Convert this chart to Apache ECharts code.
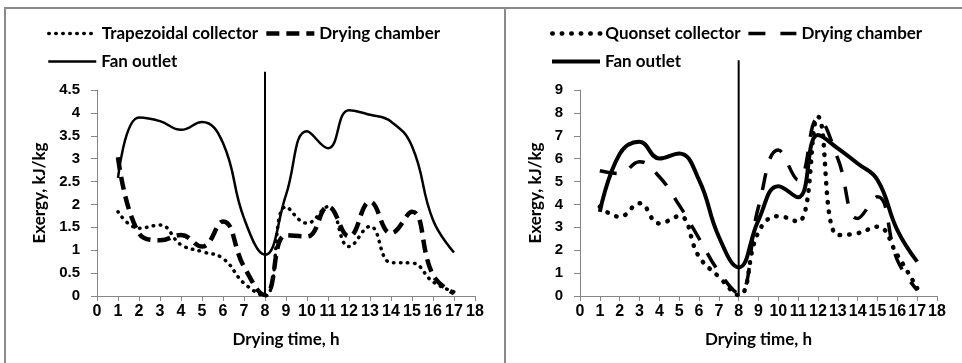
<!DOCTYPE html>
<html><head><meta charset="utf-8">
<script src="https://cdn.jsdelivr.net/npm/echarts@6/dist/echarts.min.js"></script>
<style>
html,body{margin:0;padding:0;background:#fff;width:962px;height:363px;overflow:hidden;}
#c1{position:absolute;left:0;top:0;width:505px;height:363px;}
#c2{position:absolute;left:505px;top:0;width:457px;height:363px;}
.b{position:absolute;background:#8a8a8a;z-index:5;}
</style></head><body>
<div id="c1"></div><div id="c2"></div>
<div class="b" style="left:4px;top:7px;width:958px;height:2px;"></div>
<div class="b" style="left:4px;top:7px;width:2px;height:356px;"></div>
<div class="b" style="left:504px;top:7px;width:2px;height:356px;"></div>
<script>
// ---- data ----
var hours = [1,2,3,4,5,6,7,8,9,10,11,12,13,14,15,16,17];
var xTicks = [0,18,1];
var leftNames = ['Trapezoidal collector','Drying chamber','Fan outlet'];
var leftTrap = [1.84,1.48,1.55,1.12,0.97,0.82,0.28,0.0,1.95,1.59,1.95,1.08,1.52,0.73,0.72,0.31,0.09];
var leftChamber = [3.03,1.37,1.22,1.33,1.08,1.63,0.64,0.02,1.33,1.30,1.95,1.30,2.06,1.37,1.84,0.46,0.06];
var leftFan = [2.58,3.90,3.82,3.63,3.80,3.34,1.70,0.90,2.21,3.60,3.23,4.06,3.96,3.81,3.27,1.66,0.95];
var leftY = [0,4.5,0.5];
var rightNames = ['Quonset collector','Drying chamber','Fan outlet'];
var rightQuonset = [3.90,3.46,4.05,3.17,3.49,1.72,0.84,0.04,2.80,3.49,3.24,7.83,2.66,2.74,3.03,1.79,0.34];
var rightChamber = [5.47,5.35,5.87,5.21,3.97,2.52,1.06,0.12,3.90,6.38,5.07,7.76,6.00,3.39,4.34,1.57,0.26];
var rightFan = [3.68,6.20,6.74,6.01,6.23,5.07,2.59,1.25,3.32,4.80,4.31,7.03,6.45,5.79,5.07,2.88,1.50];
var rightY = [0,9,1];
var dividerX = 8;
var leftDivider = [0,4.9];
var rightDivider = [0,10.3];
var leftNotes = [{t:'First day',x:3.95,y:4.33},{t:'Second day',x:12.8,y:4.38}];
var rightNotes = [{t:'First day',x:3.6,y:1.95},{t:'Second day',x:11.2,y:1.9}];
var yTitle = 'Exergy, kJ/kg';
var xTitle = 'Drying time, h';

function pairs(v){return hours.map(function(h,i){return [h,v[i]];});}
var lblFont = {fontFamily:'Liberation Sans',fontWeight:'bold',fontSize:16,color:'#000'};
var capFont = {fontFamily:'Lato',fontWeight:'bold',fontSize:17,color:'#000'};

function build(cfg){
  var styles = {};
  var series = cfg.lines.map(function(l){
    var ls = {color:'#000',width:l.w,type:l.type,cap:l.cap||'butt'};
    styles[l.name] = ls;
    return {name:l.name,type:'line',data:pairs(l.data),smooth:0.45,symbol:'none',
      itemStyle:{color:'rgba(0,0,0,0)',borderWidth:0},
      lineStyle:ls,z:l.z||2};
  });
  series.push({type:'line',data:[[dividerX,cfg.divider[0]],[dividerX,cfg.divider[1]]],symbol:'none',clip:false,
    lineStyle:{color:'#000',width:2},silent:true,z:1});
  series.push({type:'scatter',symbol:'none',silent:true,clip:false,
    data:cfg.notes.map(function(n){return {value:[n.x,n.y],label:{formatter:n.t}};}),
    label:{show:true,position:'inside',fontFamily:'Lato',fontSize:14,color:'#333'}});
  function items(names){return names.map(function(n){
    return {name:n,lineStyle:Object.assign({},styles[n]),itemStyle:{color:'rgba(0,0,0,0)',borderWidth:0}};});}
  var leg = {left:cfg.legLeft,itemWidth:48,itemHeight:14,itemGap:6,padding:0,
    itemStyle:{color:'rgba(0,0,0,0)',borderWidth:0},textStyle:capFont};
  return {
    animation:false,
    legend:[
      Object.assign({data:items(cfg.legRow1),top:25},leg),
      Object.assign({data:items(cfg.legRow2),top:53},leg)
    ],
    grid:{left:cfg.gl,right:cfg.gr,top:90,bottom:67},
    xAxis:{type:'value',min:xTicks[0],max:xTicks[1],interval:xTicks[2],
      name:xTitle,nameLocation:'middle',nameGap:35,nameTextStyle:capFont,
      axisLine:{lineStyle:{color:'#868686',width:1}},
      axisTick:{show:true,inside:false,length:5,lineStyle:{color:'#868686'}},
      axisLabel:Object.assign({margin:8},lblFont),splitLine:{show:false}},
    yAxis:{type:'value',min:cfg.y[0],max:cfg.y[1],interval:cfg.y[2],
      name:yTitle,nameLocation:'middle',nameGap:cfg.yGap,nameRotate:90,nameTextStyle:capFont,
      axisLine:{show:true,lineStyle:{color:'#868686',width:1}},
      axisTick:{show:true,inside:false,length:6,lineStyle:{color:'#868686'}},
      axisLabel:Object.assign({margin:17},lblFont,{fontSize:15}),splitLine:{show:false}},
    series:series
  };
}

var c1 = echarts.init(document.getElementById('c1'));
c1.setOption(build({
  lines:[
    {name:leftNames[0],data:leftTrap,w:3.5,type:[0.5,6.5],cap:'round'},
    {name:leftNames[1],data:leftChamber,w:4.5,type:[13,7]},
    {name:leftNames[2],data:leftFan,w:2.5,type:'solid',z:3}
  ],
  legRow1:[leftNames[0],leftNames[1]],legRow2:[leftNames[2]],legLeft:47,
  gl:97,gr:30,y:leftY,yGap:46,divider:leftDivider,notes:leftNotes
}));
var c2 = echarts.init(document.getElementById('c2'));
c2.setOption(build({
  lines:[
    {name:rightNames[0],data:rightQuonset,w:4.5,type:[0.5,9],cap:'round'},
    {name:rightNames[1],data:rightChamber,w:3.5,type:[17,15]},
    {name:rightNames[2],data:rightFan,w:4,type:'solid',z:3}
  ],
  legRow1:[rightNames[0],rightNames[1]],legRow2:[rightNames[2]],legLeft:45,
  gl:75,gr:25,y:rightY,yGap:32,divider:rightDivider,notes:rightNotes
}));
</script></body></html>
